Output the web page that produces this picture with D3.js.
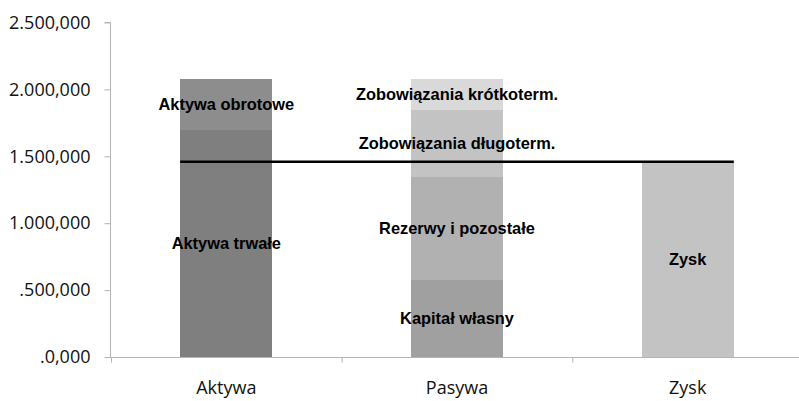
<!DOCTYPE html>
<html>
<head>
<meta charset="utf-8">
<script src="https://cdn.jsdelivr.net/npm/d3@7"></script>
<style>
  body { margin: 0; background: #fff; }
  svg { display: block; }
</style>
</head>
<body>
<div id="chart"></div>
<script>
// categories on the x axis
var categories = ["Aktywa", "Pasywa", "Zysk"];

// stacked segments, bottom to top within each category
var segLabels = ["Aktywa trwałe", "Aktywa obrotowe",
                 "Kapitał własny", "Rezerwy i pozostałe", "Zobowiązania długoterm.", "Zobowiązania krótkoterm.",
                 "Zysk"];
var segCategory = ["Aktywa", "Aktywa", "Pasywa", "Pasywa", "Pasywa", "Pasywa", "Zysk"];
var segValues = [1700000, 380000, 575000, 772000, 500000, 233000, 1460000];

// horizontal reference line (profit level)
var lineValue = 1460000;

var yTicks = [0, 500000, 1000000, 1500000, 2000000, 2500000];
var yTickLabels = [".0,000", ".500,000", "1.000,000", "1.500,000", "2.000,000", "2.500,000"];

var width = 799,
    height = 401;

var segColor = d3.scaleOrdinal()
    .domain(segLabels)
    .range(["#7f7f7f", "#8d8d8d", "#a0a0a0", "#b1b1b1", "#c3c3c3", "#d9d9d9", "#c3c3c3"]);

var x = d3.scaleBand()
    .domain(categories)
    .range([111, 803])
    .paddingInner(0.6)
    .paddingOuter(0.3);

var y = d3.scaleLinear()
    .domain([0, 2500000])
    .range([357, 22.5]);

var svg = d3.select("#chart").append("svg")
    .attr("width", width)
    .attr("height", height);

// build stacked segments
var running = {};
var segments = segLabels.map(function(lab, i) {
    var c = segCategory[i];
    var y0 = running[c] || 0;
    running[c] = y0 + segValues[i];
    return {label: lab, cat: c, y0: y0, y1: y0 + segValues[i]};
});

svg.append("g").selectAll("rect")
    .data(segments)
    .enter().append("rect")
    .attr("x", function(d) { return Math.round(x(d.cat)); })
    .attr("width", Math.round(x.bandwidth()))
    .attr("y", function(d) { return Math.round(y(d.y1)); })
    .attr("height", function(d) { return Math.round(y(d.y0)) - Math.round(y(d.y1)); })
    .attr("fill", function(d) { return segColor(d.label); })
    .attr("shape-rendering", "crispEdges");

// axes
var yAxis = svg.append("g")
    .attr("transform", "translate(110.5,0)")
    .call(d3.axisLeft(y)
        .tickValues(yTicks)
        .tickSize(6)
        .tickPadding(14)
        .tickFormat(function(d, i) { return yTickLabels[i]; }));

var xAxis = svg.append("g")
    .attr("transform", "translate(0,357.5)")
    .call(d3.axisBottom(x).tickSize(0).tickPadding(24));

// category boundary ticks on x axis
var step = x.step();
xAxis.selectAll(".boundary")
    .data(d3.range(categories.length + 1))
    .enter().append("line")
    .attr("class", "boundary")
    .attr("x1", function(i) { return x.range()[0] + 0.5 + i * step; })
    .attr("x2", function(i) { return x.range()[0] + 0.5 + i * step; })
    .attr("y1", 0)
    .attr("y2", 5);

svg.selectAll(".domain, .tick line, .boundary")
    .attr("stroke", "#b4b4b4")
    .attr("stroke-width", 1);

yAxis.select(".domain").attr("d", "M-6," + y(2500000) + "H0V" + y(0));
xAxis.select(".domain").attr("d", "M110.5,0H799");

svg.selectAll(".tick text")
    .style("font-family", "'Open Sans', 'Noto Sans', sans-serif")
    .style("font-size", "18px")
    .attr("fill", "#111");

// profit line
svg.append("line")
    .attr("x1", x("Aktywa"))
    .attr("x2", x("Zysk") + x.bandwidth())
    .attr("y1", y(lineValue))
    .attr("y2", y(lineValue))
    .attr("stroke", "#000")
    .attr("stroke-width", 2.5);

// segment labels
svg.append("g").selectAll("text")
    .data(segments)
    .enter().append("text")
    .attr("x", function(d) { return x(d.cat) + x.bandwidth() / 2; })
    .attr("y", function(d) { return (y(d.y0) + y(d.y1)) / 2; })
    .attr("dy", "0.35em")
    .attr("text-anchor", "middle")
    .style("font-family", "'Liberation Sans', Arial, sans-serif")
    .style("font-weight", "bold")
    .style("font-size", "16.4px")
    .attr("fill", "#000")
    .text(function(d) { return d.label; });
</script>
</body>
</html>
